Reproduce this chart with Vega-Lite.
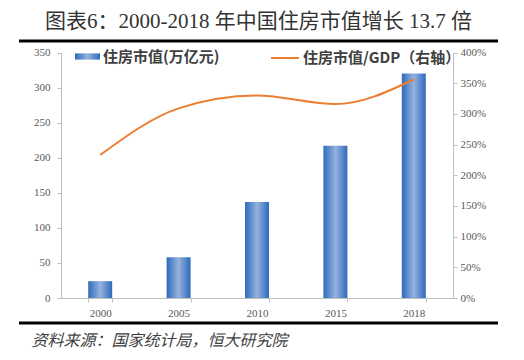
{
  "$schema": "https://vega.github.io/schema/vega-lite/v6.json",
  "width": 479,
  "height": 282,
  "autosize": {"type": "none"},
  "padding": {"left": 19, "top": 41, "right": 26, "bottom": 37},
  "background": "white",
  "config": {
    "view": {"stroke": "#000000", "strokeWidth": 3, "strokeDash": [479, 282]},
    "font": "Liberation Serif, Noto Sans CJK SC"
  },
  "title": {
    "text": "图表6：2000-2018 年中国住房市值增长 13.7 倍",
    "font": "Liberation Serif, Noto Sans CJK SC",
    "fontSize": 21,
    "fontWeight": "normal",
    "color": "#333333",
    "anchor": "middle",
    "offset": 9
  },
  "data": {
    "values": [
      {"year": "2000", "value": 24, "ratio": 2.33},
      {"year": "2005", "value": 58, "ratio": 3.09},
      {"year": "2010", "value": 137, "ratio": 3.30},
      {"year": "2015", "value": 217, "ratio": 3.16},
      {"year": "2018", "value": 320, "ratio": 3.56}
    ]
  },
  "encoding": {
    "x": {
      "field": "year",
      "type": "ordinal",
      "scale": {"range": [42, 434], "paddingInner": 0.694, "paddingOuter": 0.347},
      "axis": {
        "orient": "bottom",
        "offset": -25,
        "labelAngle": 0,
        "labelFont": "Liberation Serif",
        "labelFontSize": 11,
        "labelColor": "#595959",
        "labelPadding": 5,
        "domainColor": "#BFBFBF",
        "tickColor": "#BFBFBF",
        "tickSize": 4,
        "tickBand": "extent",
        "title": "资料来源：国家统计局，恒大研究院",
        "titleFont": "Noto Sans CJK SC",
        "titleFontSize": 16,
        "titleFontWeight": "normal",
        "titleFontStyle": "italic",
        "titleColor": "#404040",
        "titleAlign": "left",
        "titleBaseline": "middle",
        "titleAnchor": "start",
        "titleX": 12,
        "titleY": 42
      }
    }
  },
  "layer": [
    {
      "mark": {
        "type": "bar",
        "fill": {
          "gradient": "linear",
          "x1": 0, "x2": 1, "y1": 0, "y2": 0,
          "stops": [
            {"offset": 0, "color": "#2E6BBD"},
            {"offset": 0.5, "color": "#95B2DD"},
            {"offset": 1, "color": "#2E6BBD"}
          ]
        }
      },
      "encoding": {
        "y": {
          "field": "value",
          "type": "quantitative",
          "scale": {"domain": [0, 350], "range": [257, 11.5]},
          "axis": {
            "orient": "left",
            "offset": -42,
            "values": [0, 50, 100, 150, 200, 250, 300, 350],
            "format": "d",
            "grid": false,
            "title": null,
            "labelFont": "Liberation Serif",
            "labelFontSize": 11,
            "labelColor": "#595959",
            "labelPadding": 7,
            "domainColor": "#BFBFBF",
            "tickColor": "#BFBFBF",
            "tickSize": 4
          }
        },
        "opacity": {
          "datum": "住房市值(万亿元)",
          "type": "nominal",
          "scale": {"range": [1]},
          "legend": {
            "orient": "none",
            "legendX": 56,
            "legendY": 3,
            "title": null,
            "padding": 0,
            "symbolType": "M-1,-0.25H1V0.25H-1Z",
            "symbolSize": 625,
            "symbolStrokeWidth": 0,
            "symbolFillColor": "#3A74C4",
            "labelFont": "Noto Sans CJK SC",
            "labelFontSize": 15,
            "labelFontWeight": "bold",
            "labelColor": "#404040",
            "labelOffset": 3,
            "encode": {
              "symbols": {
                "update": {
                  "fill": {
                    "value": {
                      "gradient": "linear",
                      "x1": 0, "x2": 1, "y1": 0, "y2": 0,
                      "stops": [
                        {"offset": 0, "color": "#2E6BBD"},
                        {"offset": 0.5, "color": "#95B2DD"},
                        {"offset": 1, "color": "#2E6BBD"}
                      ]
                    }
                  },
                  "opacity": {"value": 1}
                }
              }
            }
          }
        }
      }
    },
    {
      "mark": {"type": "line", "interpolate": "monotone", "strokeWidth": 2},
      "encoding": {
        "y": {
          "field": "ratio",
          "type": "quantitative",
          "scale": {"domain": [0, 4], "range": [257, 11.5]},
          "axis": {
            "orient": "right",
            "offset": -45,
            "values": [0, 0.5, 1, 1.5, 2, 2.5, 3, 3.5, 4],
            "format": ".0%",
            "grid": false,
            "title": null,
            "labelFont": "Liberation Serif",
            "labelFontSize": 11,
            "labelColor": "#595959",
            "labelPadding": 3,
            "domainColor": "#BFBFBF",
            "tickColor": "#BFBFBF",
            "tickSize": 4
          }
        },
        "stroke": {
          "datum": "住房市值/GDP（右轴）",
          "type": "nominal",
          "scale": {"range": ["#ED7D31"]},
          "legend": {
            "orient": "none",
            "legendX": 251,
            "legendY": 2,
            "title": null,
            "padding": 0,
            "symbolType": "stroke",
            "symbolSize": 784,
            "symbolStrokeWidth": 2,
            "labelFont": "Noto Sans CJK SC",
            "labelFontSize": 15,
            "labelFontWeight": "bold",
            "labelColor": "#404040",
            "labelOffset": 3
          }
        }
      }
    }
  ],
  "resolve": {"scale": {"y": "independent", "opacity": "independent", "stroke": "independent"}}
}
